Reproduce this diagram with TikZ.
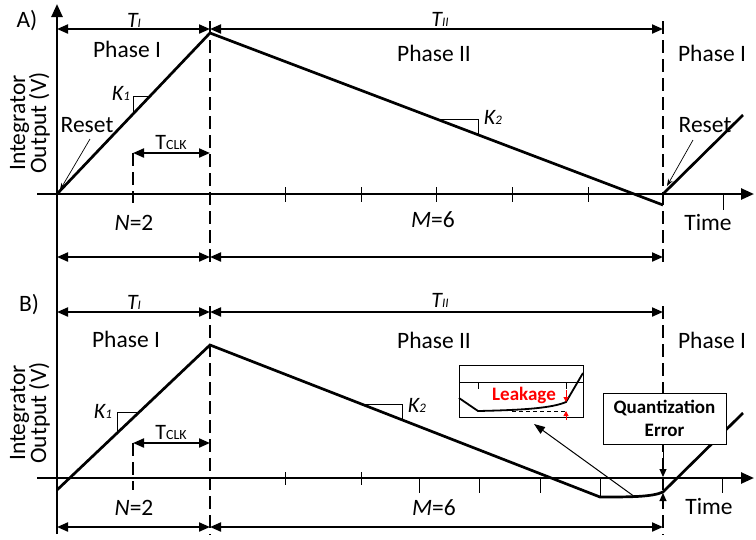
\documentclass[tikz,border=0pt]{standalone}
\usepackage{fontspec}
\setmainfont{Carlito}
\usetikzlibrary{arrows.meta}
\newcommand\smallsub[1]{{\fontsize{13}{13}\selectfont #1}}
\newcommand\smallsubup[1]{{\fontsize{14}{14}\selectfont #1}}
\begin{document}
\begin{tikzpicture}[x=1pt,y=-1pt,
  wave/.style={line width=2.7pt},
  axisline/.style={line width=2.5pt,-{Triangle[length=13pt,width=11pt]}},
  dimline/.style={line width=2pt,{Triangle[length=11pt,width=9pt]}-{Triangle[length=11pt,width=9pt]}},
  vdashed/.style={line width=2pt,dash pattern=on 13pt off 6pt},
  tickline/.style={line width=1pt},
  slopeline/.style={line width=0.9pt},
  pointer/.style={line width=0.7pt,-{Stealth[length=7pt,width=5pt]}},
  lbl/.style={font=\fontsize{23.5}{23.5}\selectfont,inner sep=0pt,anchor=base},
  sym/.style={font=\fontsize{22}{22}\selectfont,inner sep=0pt,anchor=base},
  ylbl/.style={font=\fontsize{23.5}{23.5}\selectfont,inner sep=0pt,anchor=base,rotate=90},
  redtip/.style={red,line width=1pt,-{Triangle[length=5pt,width=5pt]}},
]
\useasboundingbox (0,0) rectangle (756,539);

%================ common vertical axis
\coordinate (ybot) at (57,534);
\coordinate (ytop) at (57,4);

%================ PANEL A
\coordinate (axA0) at (37,194);
\coordinate (axA1) at (754,194);
% dashed guides
\coordinate (dA1t) at (133,153); \coordinate (dA1b) at (133,203);
\coordinate (dA2t) at (210,21);  \coordinate (dA2b) at (210,265);
\coordinate (dA3t) at (663,21);  \coordinate (dA3b) at (663,263);
\draw[vdashed] (dA1t) -- (dA1b);
\draw[vdashed] (dA2t) -- (dA2b);
\draw[vdashed] (dA3t) -- (dA3b);
% ticks
\foreach \x in {285,361,436,512,588} \draw[tickline] (\x,187) -- (\x,202);
\draw[tickline] (723,194) -- (723,210);
% waveform
\coordinate (wA0) at (57,194);
\coordinate (wA1) at (210,33);
\coordinate (wA2) at (663,205);
\coordinate (wA3) at (663,194);
\coordinate (wA4) at (743,115);
\draw[wave] (wA0) -- (wA1) -- (wA2);
\draw[wave] (wA3) -- (wA4);
% slope triangles
\draw[slopeline] (133,114) -- (133,96) -- (150,96);
\draw[slopeline] (437,119.2) -- (478,119.2) -- (478,134.8);
% dimension rows
\coordinate (rA0) at (57,29); \coordinate (rA1) at (210,29); \coordinate (rA2) at (663,29);
\draw[dimline] (rA0) -- (rA1);
\draw[dimline] (rA1) -- (rA2);
\coordinate (qA0) at (57,257); \coordinate (qA1) at (210,257); \coordinate (qA2) at (663,257);
\draw[dimline] (qA0) -- (qA1);
\draw[dimline] (qA1) -- (qA2);
\draw[dimline] (dA1t) -- (210,153);
% labels
\node[lbl] (labA) at (27,27) {A)};
\node[sym] (tIa) at (134,27) {\itshape T\smallsub{I}};
\node[sym] (tIIa) at (440,26) {\itshape T\smallsub{II}};
\node[lbl] (ph1a) at (127,57) {Phase I};
\node[lbl] (ph2a) at (434,61) {Phase II};
\node[lbl] (ph3a) at (712,61) {Phase I};
\node[sym] (k1a) at (121,100) {\itshape K\smallsub{1}};
\node[sym] (k2a) at (493,124) {\itshape K\smallsub{2}};
\node[sym] (tclka) at (171,149) {T\smallsubup{CLK}};
\node[lbl] (resa) at (87,132) {Reset};
\node[lbl] (resa2) at (705,132) {Reset};
\node[lbl] (na) at (134,230) {\textit{N}=2};
\node[lbl] (ma) at (433,227) {\textit{M}=6};
\node[lbl] (timea) at (708,230) {Time};
\node[ylbl] (y1a) at (25,123) {Integrator};
\node[ylbl] (y2a) at (46,123) {Output (V)};
\coordinate (pA0) at (90,139); \coordinate (pA1) at (60,190);
\draw[pointer] (pA0) -- (pA1);
\coordinate (pA2) at (693,140); \coordinate (pA3) at (667,186);
\draw[pointer] (pA2) -- (pA3);

%================ PANEL B
\coordinate (axB0) at (37,478);
\coordinate (axB1) at (754,478);
\coordinate (dB1t) at (133,443); \coordinate (dB1b) at (133,490);
\coordinate (dB2t) at (210,306); \coordinate (dB2b) at (210,535);
\coordinate (dB3t) at (663,306); \coordinate (dB3b) at (663,535);
\draw[vdashed] (dB1t) -- (dB1b);
\draw[vdashed] (dB2t) -- (dB2b);
\draw[vdashed] (dB3t) -- (dB3b);
% ticks
\foreach \x in {285,361} \draw[tickline] (\x,472) -- (\x,485);
\foreach \x in {419,479,540,722} \draw[tickline] (\x,478) -- (\x,493);
\draw[tickline] (600,478) -- (600,498);
% waveform
\coordinate (wB0) at (57,490);
\coordinate (wB1) at (210,345);
\coordinate (wB2) at (600,497);
\coordinate (wB3) at (663,492);
\coordinate (wB4) at (743,413);
\draw[wave] (wB0) -- (wB1) -- (wB2) .. controls (630,497) and (652,497) .. (wB3) -- (wB4);
% slope triangles
\draw[slopeline] (117,433) -- (117,412) -- (138,412);
\draw[slopeline] (362,404) -- (402,404) -- (402,419.5);
% dimension rows
\coordinate (rB0) at (57,312); \coordinate (rB1) at (210,312); \coordinate (rB2) at (663,312);
\draw[dimline] (rB0) -- (rB1);
\draw[dimline] (rB1) -- (rB2);
\coordinate (qB0) at (57,527); \coordinate (qB1) at (210,527); \coordinate (qB2) at (663,527);
\draw[dimline] (qB0) -- (qB1);
\draw[dimline] (qB1) -- (qB2);
\draw[dimline] (dB1t) -- (210,443);
% labels
\node[lbl] (labB) at (29,311) {B)};
\node[sym] (tIb) at (134,309) {\itshape T\smallsub{I}};
\node[sym] (tIIb) at (440,307) {\itshape T\smallsub{II}};
\node[lbl] (ph1b) at (126,347) {Phase I};
\node[lbl] (ph2b) at (434,348) {Phase II};
\node[lbl] (ph3b) at (712,348) {Phase I};
\node[sym] (k1b) at (103,418) {\itshape K\smallsub{1}};
\node[sym] (k2b) at (417,412) {\itshape K\smallsub{2}};
\node[sym] (tclkb) at (171,439) {T\smallsubup{CLK}};
\node[lbl] (nb) at (134,515) {\textit{N}=2};
\node[lbl] (mb) at (434,515) {\textit{M}=6};
\node[lbl] (timeb) at (709,514) {Time};
\node[ylbl] (y1b) at (25,413) {Integrator};
\node[ylbl] (y2b) at (46,413) {Output (V)};

% inset
\node[draw,line width=1pt,minimum width=124pt,minimum height=52pt,inner sep=0pt] (inset) at (521,391) {};
\coordinate (iax0) at (459,382); \coordinate (iax1) at (583,382);
\draw[line width=0.9pt] (iax0) -- (iax1);
\draw[tickline] (478,382) -- (478,389);
\draw[tickline] (566,382) -- (566,389);
\coordinate (ic0) at (459,398); \coordinate (ic1) at (478,411);
\coordinate (ic2) at (566,402); \coordinate (ic3) at (583,373);
\draw[line width=1.8pt] (ic0) -- (ic1) .. controls (525,410) and (552,408) .. (ic2) -- (ic3);
\coordinate (id0) at (512,411); \coordinate (id1) at (566,411);
\draw[line width=0.8pt,dash pattern=on 4pt off 3pt] (id0) -- (id1);
\node[font=\fontsize{19}{19}\selectfont\bfseries,text=red,inner sep=0pt,anchor=base] (leak) at (524,400) {Leakage};
\coordinate (ra0) at (566,390); \coordinate (ra1) at (566,402);
\coordinate (rb0) at (566,420); \coordinate (rb1) at (566,411);
\draw[redtip] (ra0) -- (ra1);
\draw[redtip] (rb0) -- (rb1);
% pointer to inset
\coordinate (pin0) at (635,497); \coordinate (pin1) at (534,424);
\draw[line width=1pt,-{Triangle[length=11pt,width=8pt]}] (pin0) -- (pin1);

% quantization error box
\node[draw,fill=white,line width=1pt,minimum width=123pt,minimum height=51pt,inner sep=0pt,
      align=center,font=\fontsize{19}{23}\selectfont\bfseries] (qbox) at (664.5,418.5) {Quantization\\Error};
\coordinate (qe0) at (663,444); \coordinate (qe1) at (663,477);
\coordinate (qe2) at (663,505); \coordinate (qe3) at (663,493);
\draw[line width=1pt,-{Triangle[length=8pt,width=7pt]}] (qe0) -- (qe1);
\draw[line width=1pt,-{Triangle[length=8pt,width=7pt]}] (qe2) -- (qe3);

%================ axes on top
\draw[axisline] (ybot) -- (ytop);
\draw[axisline] (axA0) -- (axA1);
\draw[axisline] (axB0) -- (axB1);
\end{tikzpicture}
\end{document}
